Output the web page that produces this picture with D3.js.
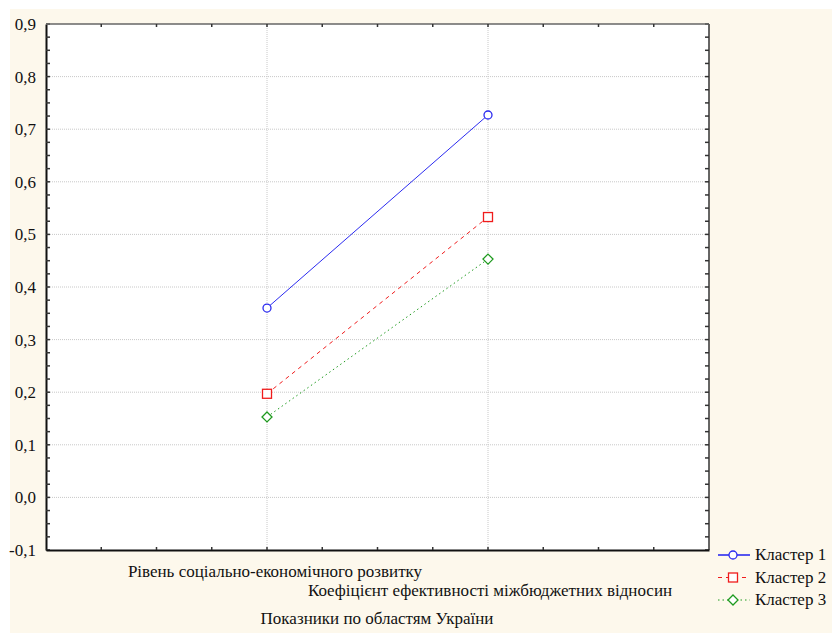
<!DOCTYPE html>
<html>
<head>
<meta charset="utf-8">
<script src="https://cdn.jsdelivr.net/npm/d3@7"></script>
<style>
  body { margin: 0; background: #ffffff; }
</style>
</head>
<body>
<div id="chart"></div>
<script>
// categories and series
var categories = ["Рівень соціально-економічного розвитку", "Коефіцієнт ефективності міжбюджетних відносин"];
var categoryPos = [4, 8];
var cluster1 = [0.36, 0.727];
var cluster2 = [0.197, 0.533];
var cluster3 = [0.153, 0.453];
var seriesNames = ["Кластер 1", "Кластер 2", "Кластер 3"];
var yTicks = [0.9, 0.8, 0.7, 0.6, 0.5, 0.4, 0.3, 0.2, 0.1, 0.0, -0.1];
var axisTitle = "Показники по областям України";

var width = 832, height = 633;
var margin = {left: 46, top: 24, right: 123, bottom: 83};
var FONT = "'Liberation Serif'";

var svg = d3.select("#chart").append("svg")
    .attr("width", width)
    .attr("height", height);

// background panel
svg.append("rect")
    .attr("x", 10).attr("y", 9)
    .attr("width", width - 10).attr("height", height - 9)
    .attr("fill", "#fdf8ec");

var x = d3.scaleLinear().domain([0, 12]).range([margin.left, width - margin.right]);
var y = d3.scaleLinear().domain([-0.1, 0.9]).range([height - margin.bottom, margin.top]);

// plot area
svg.append("rect")
    .attr("x", x(0)).attr("y", y(0.9))
    .attr("width", x(12) - x(0)).attr("height", y(-0.1) - y(0.9))
    .attr("fill", "#ffffff");

// grid lines
svg.selectAll("line.hgrid")
    .data(yTicks.slice(1, -1))
    .enter().append("line")
    .attr("class", "hgrid")
    .attr("x1", x(0)).attr("x2", x(12))
    .attr("y1", function (d) { return y(d); })
    .attr("y2", function (d) { return y(d); })
    .attr("stroke", "#c8c8c8")
    .attr("stroke-dasharray", "1,1");
svg.selectAll("line.vgrid")
    .data(categoryPos)
    .enter().append("line")
    .attr("class", "vgrid")
    .attr("x1", function (d) { return x(d); })
    .attr("x2", function (d) { return x(d); })
    .attr("y1", y(0.9)).attr("y2", y(-0.1))
    .attr("stroke", "#c8c8c8")
    .attr("stroke-dasharray", "1,1");

// axes
var yMinor = d3.range(-0.1, 0.9001, 0.025);
var fmt = function (d) { return d3.format(".1f")(d).replace(".", ",").replace("−", "-"); };

var leftAxis = d3.axisLeft(y).tickValues(yTicks).tickSize(0).tickPadding(10).tickFormat(fmt);
svg.append("g")
    .attr("transform", "translate(" + x(0) + ",0)")
    .call(leftAxis)
    .call(function (g) {
        g.select(".domain").attr("stroke", "#111").attr("stroke-width", 2);
        g.selectAll("text")
            .style("font-size", "17px")
            .style("font-family", FONT)
            .attr("fill", "#111");
    });
// inner minor ticks left & right
[x(0), x(12)].forEach(function (xx, k) {
    var dir = k === 0 ? 1 : -1;
    svg.append("g").selectAll("line")
        .data(yMinor)
        .enter().append("line")
        .attr("x1", xx).attr("x2", xx + dir * 4)
        .attr("y1", function (d) { return y(d); })
        .attr("y2", function (d) { return y(d); })
        .attr("stroke", "#333").attr("stroke-width", 1.5);
});
svg.append("line")
    .attr("x1", x(12)).attr("x2", x(12))
    .attr("y1", y(0.9)).attr("y2", y(-0.1))
    .attr("stroke", "#333").attr("stroke-width", 1.5);
svg.append("line")
    .attr("x1", x(0)).attr("x2", x(12))
    .attr("y1", y(0.9)).attr("y2", y(0.9))
    .attr("stroke", "#666").attr("stroke-width", 1.5);

var bottomAxis = d3.axisBottom(x).ticks(12).tickSize(0).tickFormat("");
svg.append("g")
    .attr("transform", "translate(0," + y(-0.1) + ")")
    .call(bottomAxis)
    .call(function (g) { g.select(".domain").attr("stroke", "#111").attr("stroke-width", 2); });
// small ticks on bottom & top
[y(-0.1), y(0.9)].forEach(function (yy) {
    svg.append("g").selectAll("line")
        .data(d3.range(1, 12))
        .enter().append("line")
        .attr("x1", function (d) { return x(d); })
        .attr("x2", function (d) { return x(d); })
        .attr("y1", yy).attr("y2", yy + (yy > 100 ? -3 : 3))
        .attr("stroke", "#333").attr("stroke-width", 1.5);
});

// category labels (slightly staggered like the original)
var labelShift = [8, 2];
svg.selectAll("text.cat")
    .data(categories)
    .enter().append("text")
    .attr("class", "cat")
    .attr("x", function (d, i) { return x(categoryPos[i]) + labelShift[i]; })
    .attr("y", function (d, i) { return 577 + i * 19; })
    .attr("text-anchor", "middle")
    .attr("fill", "#111")
    .style("font-family", FONT)
    .style("font-size", "17px")
    .text(function (d) { return d; });

svg.append("text")
    .attr("x", 377).attr("y", 624)
    .attr("text-anchor", "middle")
    .attr("fill", "#111")
    .style("font-family", FONT)
    .style("font-size", "17px")
    .text(axisTitle);

// series
var series = [
    {name: seriesNames[0], values: cluster1, color: "#2b2bf0", dash: null, shape: "circle"},
    {name: seriesNames[1], values: cluster2, color: "#f01c1c", dash: "4,4", shape: "square"},
    {name: seriesNames[2], values: cluster3, color: "#1e9a1e", dash: "1.5,3", shape: "diamond"}
];

var line = d3.line()
    .x(function (d, i) { return x(categoryPos[i]); })
    .y(function (d) { return y(d); });

function drawMarker(g, shape, color, cx, cy) {
    if (shape === "circle") {
        g.append("circle").attr("cx", cx).attr("cy", cy).attr("r", 4)
            .attr("fill", "#fff").attr("stroke", color).attr("stroke-width", 1.3);
    } else if (shape === "square") {
        g.append("rect").attr("x", cx - 4.5).attr("y", cy - 4.5).attr("width", 9).attr("height", 9)
            .attr("fill", "#fff").attr("stroke", color).attr("stroke-width", 1.3);
    } else {
        g.append("path").attr("d", "M" + cx + "," + (cy - 5) + "L" + (cx + 5) + "," + cy + "L" + cx + "," + (cy + 5) + "L" + (cx - 5) + "," + cy + "Z")
            .attr("fill", "#fff").attr("stroke", color).attr("stroke-width", 1.3);
    }
}

series.forEach(function (s) {
    var g = svg.append("g");
    g.append("path")
        .datum(s.values)
        .attr("d", line)
        .attr("fill", "none")
        .attr("stroke", s.color)
        .attr("stroke-width", 1)
        .attr("stroke-dasharray", s.dash);
    s.values.forEach(function (v, i) {
        drawMarker(g, s.shape, s.color, x(categoryPos[i]), y(v));
    });
});

// legend
series.forEach(function (s, i) {
    var ly = 555 + i * 22.5;
    var g = svg.append("g");
    g.append("line")
        .attr("x1", 718).attr("x2", 750)
        .attr("y1", ly).attr("y2", ly)
        .attr("stroke", s.color).attr("stroke-width", i === 0 ? 1.6 : 1)
        .attr("stroke-dasharray", s.dash);
    drawMarker(g, s.shape, s.color, 733, ly);
    g.append("text")
        .attr("x", 755).attr("y", ly + 5)
        .attr("fill", "#111")
        .style("font-family", FONT)
        .style("font-size", "17px")
        .text(s.name);
});
</script>
</body>
</html>
